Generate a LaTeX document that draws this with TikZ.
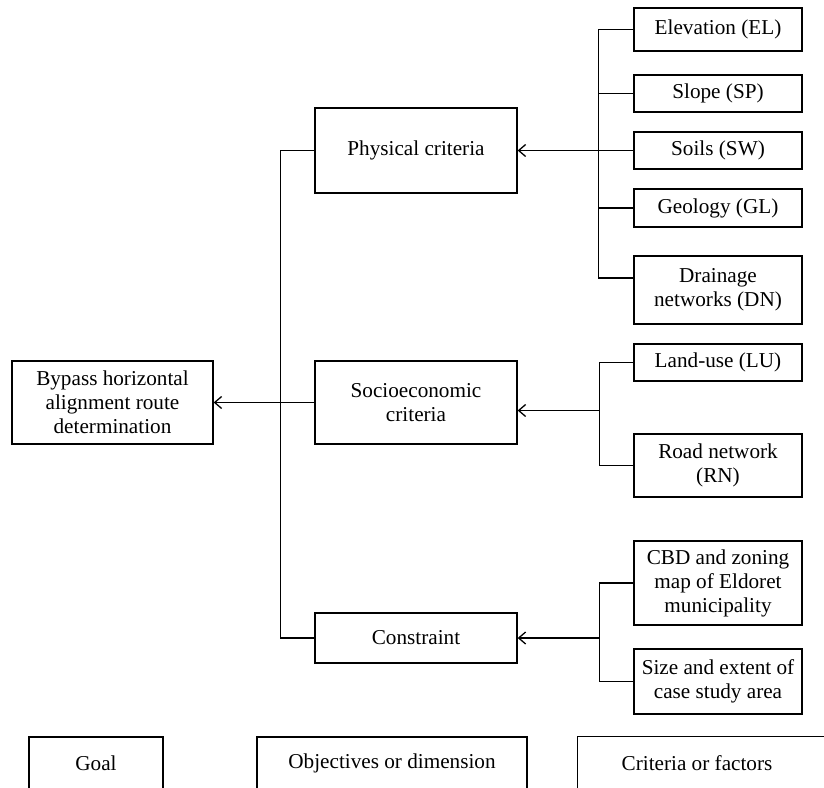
\documentclass[tikz,border=0pt]{standalone}
\usepackage{fontspec}
\setmainfont{Liberation Serif}
\usetikzlibrary{arrows.meta, positioning, calc}

\begin{document}
\begin{tikzpicture}[
	x=0.5pt, y=-0.5pt,
	line width=0.65pt,
	>={Straight Barb[length=3.5pt,width=6pt]},
	font=\fontsize{10.6}{12}\selectfont,
	box/.style={draw, rectangle, align=center, inner sep=0pt},
	mid/.style={box, minimum width=101pt},
	leaf/.style={box, minimum width=84pt}
]

\tikzstyle{key} = [rectangle, align=center, inner sep=0pt, minimum height=26pt];

\useasboundingbox (0,0) rectangle (824,787);
\clip (0,0) rectangle (824,787);

 % goal and objectives
 \node [box, minimum width=100.5pt, minimum height=41.5pt] (goal)  at (112.5,402.5) {Bypass horizontal\\alignment route\\determination};
 \node [mid, minimum height=42.5pt]                          (phys)  at (416,150.5)   {Physical criteria};
 \node [mid, minimum height=41.5pt]                          (socio) at (416,402.5)   {Socioeconomic\\criteria};
 \node [mid, minimum height=25pt]                            (cons)  at (416,638)     {Constraint};

 % criteria or factors
 \node [leaf, minimum height=21.5pt] (el)   at (718,29.5)  {Elevation (EL)};
 \node [leaf, minimum height=18.5pt] (sp)   at (718,93.5)  {Slope (SP)};
 \node [leaf, minimum height=18.5pt] (sw)   at (718,150.5) {Soils (SW)};
 \node [leaf, minimum height=19pt]   (gl)   at (718,208)   {Geology (GL)};
 \node [leaf, minimum height=34pt]   (dn)   at (718,290)   {Drainage\\networks (DN)};
 \node [leaf, minimum height=18.5pt] (lu)   at (718,362.5) {Land-use (LU)};
 \node [leaf, minimum height=31.5pt] (rn)   at (718,465.5) {Road network\\(RN)};
 \node [leaf, minimum height=42pt]   (cbd)  at (718,583)   {CBD and zoning\\map of Eldoret\\municipality};
 \node [leaf, minimum height=32.5pt] (size) at (718,681.5) {Size and extent of\\case study area};

 % legend
 \node [key, draw, minimum width=67pt]  (kgoal) at (96,763)  {Goal};
 \node [key, draw, minimum width=135pt] (kobj)  at (392,763) {Objectives or dimension};
 \node [key, minimum width=119pt]       (kcrit) at (697,763) {Criteria or factors};
 \draw (kcrit.south west) -- (kcrit.north west) -- ++(260,0);

 % goal level
 \draw (phys.west) -- ++(-34,0) coordinate (trunk) |- (cons.west);
 \draw [->] (socio.west) -- (goal.east);

 % physical
 \coordinate (dnin) at ([yshift=6pt]dn.west);
 \draw (el.west) -- ++(-35,0) coordinate (pbus) |- (dnin);
 \draw (sp.west) -- (sp.west -| pbus);
 \draw (gl.west) -- (gl.west -| pbus);
 \draw [->] (sw.west) -- (phys.east);

 % socioeconomic
 \draw (lu.west) -- ++(-34,0) coordinate (sbus) |- (rn.west);
 \draw [->] ([yshift=-4pt]socio.east -| sbus) -- ([yshift=-4pt]socio.east);

 % constraint
 \draw (cbd.west) -- ++(-34,0) coordinate (cbus) |- (size.west);
 \draw [->] (cons.east -| cbus) -- (cons.east);

\end{tikzpicture}
\end{document}
